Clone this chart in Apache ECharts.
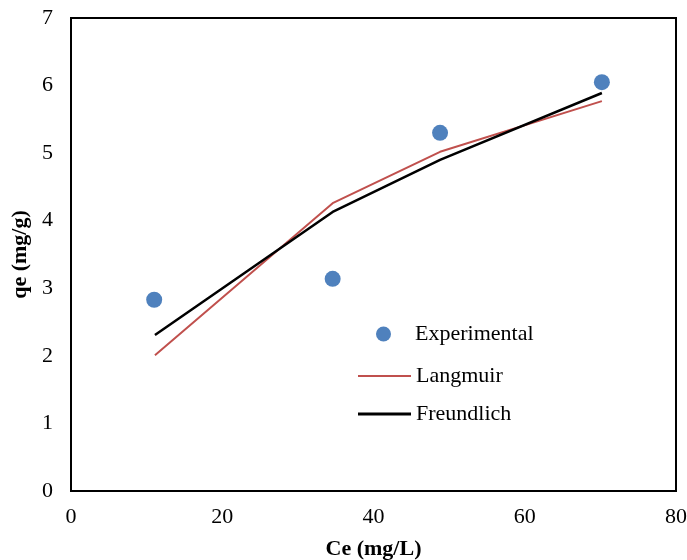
<!DOCTYPE html>
<html>
<head>
<meta charset="utf-8">
<script src="https://cdn.jsdelivr.net/npm/echarts@6/dist/echarts.min.js"></script>
<style>
  html, body { margin: 0; padding: 0; background: #fff; }
  #main { width: 687px; height: 560px; }
</style>
</head>
<body>
<div id="main"></div>
<script>
// data
var ceExp = [11.0, 34.6, 48.8, 70.2];
var qeExp = [2.83, 3.14, 5.30, 6.05];
var ceModel = [11.1, 34.6, 48.8, 70.2];
var qeLangmuir = [2.01, 4.26, 5.02, 5.77];
var qeFreundlich = [2.31, 4.13, 4.90, 5.89];

function pairs(xs, ys) {
  var out = [];
  for (var i = 0; i < xs.length; i++) out.push([xs[i], ys[i]]);
  return out;
}

var font = '"Liberation Serif", "Times New Roman", serif';
var chart = echarts.init(document.getElementById('main'));

var option = {
  animation: false,
  textStyle: { fontFamily: font },
  grid: {
    left: 71, right: 11, top: 18, bottom: 69,
    outerBoundsMode: 'none',
    containLabel: false,
    show: true,
    borderColor: '#000',
    borderWidth: 2
  },
  xAxis: {
    type: 'value',
    min: 0, max: 80, interval: 20,
    name: 'Ce (mg/L)',
    nameLocation: 'middle',
    nameGap: 47,
    nameTextStyle: { fontFamily: font, fontSize: 22, fontWeight: 'bold', color: '#000' },
    axisLine: { show: true, lineStyle: { color: '#000', width: 2 } },
    axisTick: { show: false },
    axisLabel: { fontFamily: font, fontSize: 22, color: '#000', margin: 15 },
    splitLine: { show: false }
  },
  yAxis: {
    type: 'value',
    min: 0, max: 7, interval: 1,
    name: 'qe (mg/g)',
    nameLocation: 'middle',
    nameGap: 39,
    nameRotate: 90,
    nameTextStyle: { fontFamily: font, fontSize: 22, fontWeight: 'bold', color: '#000' },
    axisLine: { show: true, lineStyle: { color: '#000', width: 2 } },
    axisTick: { show: false },
    axisLabel: { fontFamily: font, fontSize: 22, color: '#000', margin: 18 },
    splitLine: { show: false }
  },
  legend: [
    {
      left: 376, top: 323, padding: 0, itemWidth: 53, itemHeight: 15, itemGap: 0,
      data: [{ name: 'Experimental', icon: 'circle' }],
      textStyle: { fontFamily: font, fontSize: 22, color: '#000' }
    },
    {
      left: 358, top: 365, padding: 0, itemWidth: 53, itemHeight: 2, itemGap: 0,
      data: [{ name: 'Langmuir', icon: 'rect' }],
      textStyle: { fontFamily: font, fontSize: 22, color: '#000' }
    },
    {
      left: 358, top: 403, padding: 0, itemWidth: 53, itemHeight: 3, itemGap: 0,
      data: [{ name: 'Freundlich', icon: 'rect' }],
      textStyle: { fontFamily: font, fontSize: 22, color: '#000' }
    }
  ],
  series: [
    {
      name: 'Langmuir',
      type: 'line',
      data: pairs(ceModel, qeLangmuir),
      showSymbol: false,
      symbol: 'none',
      lineStyle: { color: '#C0504D', width: 2 },
      itemStyle: { color: '#C0504D' },
      z: 2
    },
    {
      name: 'Freundlich',
      type: 'line',
      data: pairs(ceModel, qeFreundlich),
      showSymbol: false,
      symbol: 'none',
      lineStyle: { color: '#000', width: 2.5 },
      itemStyle: { color: '#000' },
      z: 3
    },
    {
      name: 'Experimental',
      type: 'scatter',
      data: pairs(ceExp, qeExp),
      symbolSize: 16,
      itemStyle: { color: '#4F81BD', opacity: 1 },
      z: 4
    }
  ]
};

chart.setOption(option);
</script>
</body>
</html>
